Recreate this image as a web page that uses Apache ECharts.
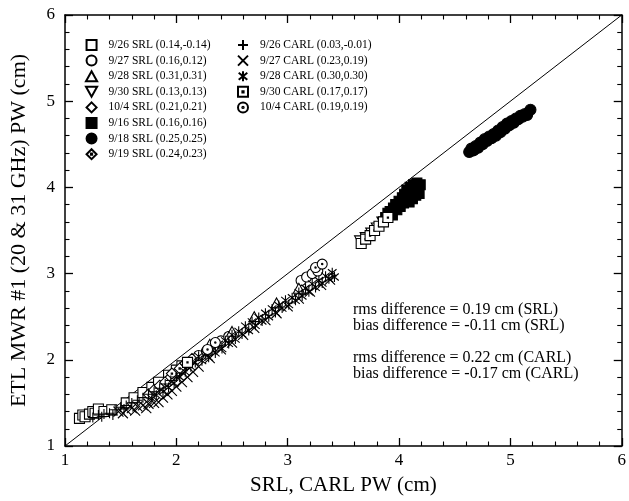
<!DOCTYPE html>
<html>
<head>
<meta charset="utf-8">
<script src="https://cdn.jsdelivr.net/npm/echarts@6/dist/echarts.min.js"></script>
<style>html,body{margin:0;padding:0;background:#fff}#c{width:629px;height:501px}</style>
</head>
<body>
<div id="c"></div>
<script>
// ---- Data (x = SRL/CARL PW, y = ETL MWR #1 PW), cm ----
const srl0926 = [[1.13,1.32],[1.16,1.36],[1.18,1.34],[1.22,1.37],[1.25,1.40],[1.27,1.38],[1.30,1.43],[1.35,1.40],[1.42,1.42],[1.55,1.50],[1.62,1.56],[1.70,1.62],[1.78,1.68],[1.84,1.74],[1.93,1.82],[2.00,1.88],[2.05,1.93]];
const srl0927 = [[2.20,2.05],[2.27,2.10],[2.33,2.15],[2.40,2.22],[2.47,2.27],[3.12,2.92],[3.17,2.96],[3.22,3.00],[3.27,3.03]];
const srl0928 = [[2.30,2.18],[2.50,2.33],[2.70,2.50],[2.90,2.66],[3.10,2.83]];
const srl0930 = [[3.65,3.38],[3.70,3.42],[3.75,3.47],[3.80,3.53],[3.85,3.60]];
const srl1004 = [[1.75,1.60],[1.80,1.65],[1.85,1.70],[1.90,1.74],[1.95,1.80],[2.00,1.85],[2.05,1.90],[2.10,1.95]];
const srl0916 = [[3.88,3.65],[3.90,3.70],[3.92,3.72],[3.94,3.68],[3.95,3.76],[3.97,3.80],[3.98,3.74],[4.00,3.84],[4.01,3.78],[4.03,3.88],[4.04,3.82],[4.05,3.92],[4.06,3.86],[4.07,3.97],[4.08,3.90],[4.09,3.83],[4.10,4.00],[4.11,3.94],[4.12,3.87],[4.13,4.03],[4.14,3.97],[4.15,3.91],[4.16,4.05],[4.17,3.99],[4.18,3.93],[4.19,4.03]];
const srl0918 = [[4.63,4.41],[4.65,4.45],[4.67,4.43],[4.69,4.48],[4.71,4.46],[4.73,4.52],[4.75,4.50],[4.77,4.56],[4.79,4.54],[4.81,4.59],[4.83,4.57],[4.85,4.62],[4.87,4.60],[4.89,4.66],[4.91,4.64],[4.93,4.70],[4.95,4.68],[4.97,4.74],[4.99,4.72],[5.01,4.77],[5.03,4.75],[5.05,4.80],[5.07,4.79],[5.09,4.83],[5.11,4.82],[5.13,4.85],[5.15,4.84],[5.18,4.90]];
const srl0919 = [[1.96,1.84],[2.03,1.90],[2.08,1.96],[2.14,2.01]];
const carl0926 = [[1.25,1.33],[1.30,1.36],[1.33,1.34],[1.35,1.37],[1.40,1.38],[1.43,1.36],[1.45,1.42],[1.50,1.45],[1.53,1.43],[1.55,1.47],[1.60,1.50],[1.65,1.53],[1.70,1.56],[1.75,1.60],[1.80,1.63],[1.85,1.67],[1.90,1.72],[1.95,1.76],[2.00,1.80]];
const carl0927 = [[1.48,1.40],[1.52,1.38],[1.55,1.42],[1.60,1.44],[1.63,1.41],[1.65,1.46],[1.70,1.47],[1.73,1.44],[1.75,1.49],[1.80,1.50],[1.84,1.51],[1.88,1.56],[1.92,1.60],[1.96,1.64],[2.00,1.69],[2.05,1.74],[2.10,1.80],[2.15,1.86],[2.20,1.92],
  [2.30,2.02],[2.40,2.12],[2.50,2.20],[2.60,2.29],[2.70,2.37],[2.80,2.46],[2.90,2.54],[3.00,2.62],[3.10,2.71],[3.20,2.79],[3.30,2.87],[3.38,2.93]];
const carl0928 = [[1.78,1.55],[1.82,1.59],[1.88,1.63],[1.93,1.68],[1.98,1.73],[2.03,1.80],[2.08,1.86],[2.13,1.92],[2.17,1.97],
  [2.20,2.04],[2.23,1.99],[2.26,2.07],[2.29,2.03],[2.32,2.12],[2.35,2.08],[2.38,2.18],[2.41,2.13],[2.44,2.22],[2.47,2.19],[2.50,2.29],[2.53,2.24],[2.56,2.33],[2.59,2.30],[2.62,2.39],[2.65,2.34],[2.68,2.44],[2.71,2.40],[2.74,2.49],[2.77,2.45],[2.80,2.54],[2.83,2.50],[2.86,2.59],[2.89,2.55],[2.92,2.63],[2.95,2.60],[2.98,2.69],[3.01,2.64],[3.04,2.72],[3.07,2.69],[3.10,2.78],[3.13,2.74],[3.16,2.83],[3.19,2.79],[3.22,2.88],[3.25,2.84],[3.28,2.92],[3.31,2.89],[3.34,2.97],[3.37,2.94],[3.40,3.01],[3.42,2.96]];
const carl0930 = [[2.10,1.97],[3.66,3.35],[3.70,3.40],[3.74,3.44],[3.78,3.50],[3.82,3.55],[3.86,3.60],[3.90,3.65]];
const carl1004 = [[2.28,2.12],[2.35,2.20],[3.25,3.07],[3.31,3.11]];

const seriesNames = ['9/26 SRL (0.14,-0.14)','9/27 SRL (0.16,0.12)','9/28 SRL (0.31,0.31)','9/30 SRL (0.13,0.13)','10/4 SRL (0.21,0.21)','9/16 SRL (0.16,0.16)','9/18 SRL (0.25,0.25)','9/19 SRL (0.24,0.23)',
  '9/26 CARL (0.03,-0.01)','9/27 CARL (0.23,0.19)','9/28 CARL (0.30,0.30)','9/30 CARL (0.17,0.17)','10/4 CARL (0.19,0.19)'];
const seriesData = [srl0926,srl0927,srl0928,srl0930,srl1004,srl0916,srl0918,srl0919,carl0926,carl0927,carl0928,carl0930,carl1004];
const xTicks = [1,2,3,4,5,6];
const yTicks = [1,2,3,4,5,6];
const notes = ['rms difference = 0.19 cm (SRL)','bias difference = -0.11 cm (SRL)','rms difference = 0.22 cm (CARL)','bias difference = -0.17 cm (CARL)'];

// ---- Styles ----
const FONT = '"Liberation Serif", "Times New Roman", serif';
const W = '#fff', B = '#000', T = 'rgba(0,0,0,0)';
const DOT_SQ = 'M4.4,4.4L5.6,4.4L5.6,5.6L4.4,5.6Z';
const sym = [
  {s:'path://M0,0L10,0L10,10L0,10Z', fill:W, size:10},
  {s:'path://M5,0A5,5,0,1,1,5,10A5,5,0,1,1,5,0Z', fill:W, size:10},
  {s:'path://M5,0L10,9L0,9Z', fill:W, size:11},
  {s:'path://M0,0L10,0L5,9Z', fill:W, size:11},
  {s:'path://M5,0L10,5L5,10L0,5Z', fill:W, size:11},
  {s:'path://M0,0L10,0L10,10L0,10Z', fill:B, size:10},
  {s:'path://M5,0A5,5,0,1,1,5,10A5,5,0,1,1,5,0Z', fill:B, size:11},
  {s:'path://M5,0L10,5L5,10L0,5Z'+DOT_SQ, fill:W, size:11},
  {s:'path://M5,0L5,10M0,5L10,5', fill:T, size:10},
  {s:'path://M0,0L10,10M10,0L0,10', fill:T, size:10},
  {s:'path://M5,0L5,10M0.7,1.5L9.3,8.5M9.3,1.5L0.7,8.5', fill:T, size:10},
  {s:'path://M0,0L10,0L10,10L0,10Z'+DOT_SQ, fill:W, size:10},
  {s:'path://M5,0A5,5,0,1,1,5,10A5,5,0,1,1,5,0ZM5,4.3A0.7,0.7,0,1,1,5,5.7A0.7,0.7,0,1,1,5,4.3Z', fill:W, size:10}
];

const series = seriesNames.map((n,i)=>({
  name:n, type:'scatter', data:seriesData[i], symbol:sym[i].s, symbolSize:sym[i].size, symbolKeepAspect:true,
  itemStyle:{color:sym[i].fill, borderColor:B, borderWidth:1.1, opacity:1},
  emphasis:{disabled:true}, z:3
}));
series.unshift({type:'line', data:[[1,1],[6,6]], symbol:'none', silent:true, lineStyle:{color:B,width:1}, z:2});

function axisCommon(){
  return {min:1,max:6,interval:1,
    axisLine:{show:true,onZero:false,lineStyle:{color:B,width:1.5}},
    axisTick:{show:true,inside:true,length:8,lineStyle:{color:B,width:1.3}},
    minorTick:{show:true,splitNumber:5,length:4.5,lineStyle:{color:B,width:1.1}},
    splitLine:{show:false}, minorSplitLine:{show:false}};
}

const chart = echarts.init(document.getElementById('c'), null, {renderer:'canvas'});
const legendCommon = {orient:'vertical', itemWidth:24, itemHeight:10, itemGap:3.6, selectedMode:false,
  textStyle:{fontFamily:FONT, fontSize:11.5, color:B, lineHeight:12}};
chart.setOption({
  animation:false,
  backgroundColor:'#fff',
  grid:{left:63,right:5,top:15,bottom:54},
  xAxis:[
    Object.assign(axisCommon(),{position:'bottom',name:'SRL, CARL PW (cm)',nameLocation:'middle',nameGap:29,
      nameTextStyle:{fontFamily:FONT,fontSize:21,color:B},
      axisLabel:{fontFamily:FONT,fontSize:17,color:B,margin:6,formatter:v=>xTicks.includes(v)?String(v):''}}),
    Object.assign(axisCommon(),{position:'top',axisLabel:{show:false}})
  ],
  yAxis:[
    Object.assign(axisCommon(),{position:'left',name:'ETL MWR #1 (20 & 31 GHz) PW (cm)',nameLocation:'middle',nameGap:35,
      nameTextStyle:{fontFamily:FONT,fontSize:22,color:B},
      axisLabel:{fontFamily:FONT,fontSize:17,color:B,margin:10,formatter:v=>yTicks.includes(v)?String(v):''}}),
    Object.assign(axisCommon(),{position:'right',axisLabel:{show:false}})
  ],
  legend:[
    Object.assign({}, legendCommon, {left:80, top:34, data:seriesNames.slice(0,8)}),
    Object.assign({}, legendCommon, {left:232, top:34, data:seriesNames.slice(8)})
  ],
  graphic: notes.map((t,i)=>({type:'text', left:353, top:[302,318,350,366][i],
    style:{text:t, font:'16px '+FONT, fill:B}})),
  series:series
});
</script>
</body>
</html>
